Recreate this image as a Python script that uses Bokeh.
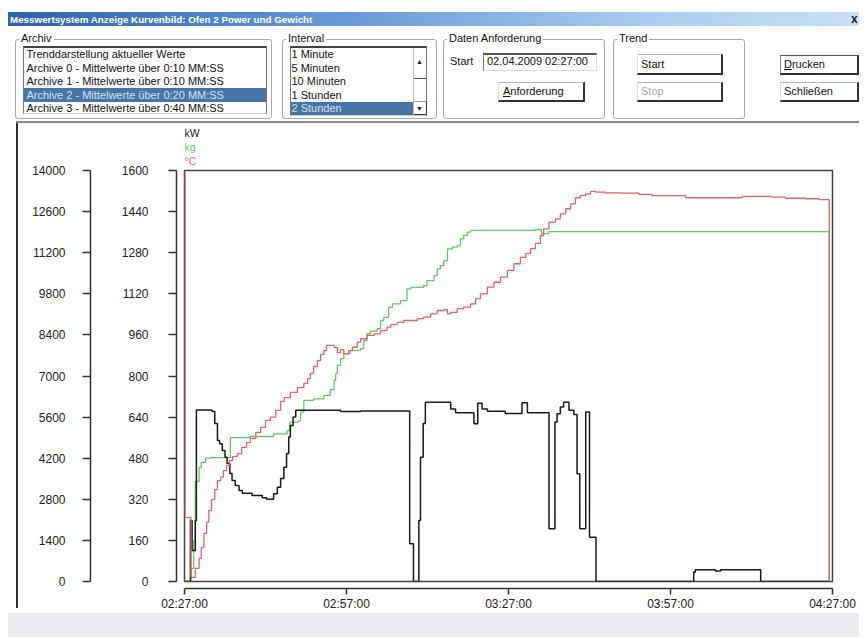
from bokeh.plotting import figure
from bokeh.models import Range1d, LinearAxis, FixedTicker, Title, Div
from bokeh.layouts import column, row
from bokeh.embed import file_html
from bokeh.resources import INLINE

# ---------------- data (time in minutes after 02:27:00) ----------------
kw_t = [0, 1.1, 1.4, 2.0, 2.2, 5.1, 5.6, 6.1, 6.5, 7.0, 7.5, 7.9, 8.4, 8.8, 9.4,
        10.1, 10.7, 12.5, 14.4, 15.2, 16.5, 17.2, 17.8, 18.4, 18.9, 19.3, 19.6,
        20.1, 20.6, 28.9, 32.6, 41.7, 42.4, 43.4, 43.7, 44.2, 44.6, 49.3, 50.2,
        53.6, 54.3, 55.1, 56.1, 59.4, 62.5, 63.5, 67.5, 68.6, 69.0, 69.6, 70.2,
        71.2, 72.1, 72.7, 73.2, 74.3, 75.0, 76.2, 94.3, 94.6, 98.3, 99.3, 106.7, 119.4]
kw_v = [0, 2080, 1060, 2080, 5840, 5790, 5380, 4800, 4690, 4460, 4230, 4020, 3680,
        3440, 3270, 3100, 3010, 2930, 2850, 2800, 2990, 3210, 3510, 3890, 4360,
        4920, 5310, 5600, 5830, 5790, 5810, 1290, 0, 2080, 4230, 5380, 6110, 5880,
        5750, 5370, 6070, 5880, 5800, 5720, 6090, 5750, 1800, 5430, 5710, 5940,
        6110, 5830, 5690, 3670, 1800, 5770, 1510, 0, 320, 400, 360, 400, 0, 0]

kg_t = [0, 1.2, 1.7, 2.0, 2.7, 3.1, 3.9, 4.8, 8.5, 12.2, 16.5, 19.0, 19.5, 21.2,
        21.5, 22.1, 23.9, 25.8, 27.0, 27.7, 28.0, 28.3, 28.9, 29.5, 30.7, 32.6,
        33.2, 33.8, 34.4, 35.7, 36.3, 36.9, 37.8, 38.5, 40.0, 41.2, 41.9, 44.3,
        44.9, 46.2, 46.8, 47.4, 48.0, 48.7, 49.6, 50.5, 51.1, 51.7, 52.4, 53.0,
        65.0, 66.1, 67.4, 119.4]
kg_v = [0, 440, 1400, 3410, 3880, 4060, 4200, 4220, 4900, 4940, 5030, 5140, 5430,
        5480, 5770, 6170, 6220, 6340, 6540, 6850, 7080, 7360, 7590, 7760, 7870,
        7930, 8210, 8440, 8530, 8610, 8890, 9000, 9340, 9460, 9570, 9970, 10020,
        10080, 10250, 10420, 10650, 10760, 10930, 11330, 11390, 11440, 11670,
        11790, 11900, 11960, 11990, 11850, 11920, 0]

c_t = [0, 0.1, 1.2, 2.0, 2.7, 3.1, 3.6, 4.1, 4.5, 5.0, 5.6, 6.1, 6.7, 7.2, 7.8,
       8.3, 8.9, 9.8, 10.6, 11.5, 12.2, 13.2, 14.1, 15.0, 15.9, 16.9, 17.8, 18.5,
       19.6, 20.9, 22.1, 22.8, 23.3, 23.9, 24.6, 25.2, 25.8, 26.3, 27.7, 28.3,
       28.9, 29.5, 30.4, 31.1, 32.0, 32.6, 33.8, 35.1, 36.3, 37.5, 38.2, 39.4,
       40.6, 43.1, 44.3, 45.6, 46.8, 48.0, 48.7, 49.3, 50.5, 51.7, 53.0, 53.9,
       54.8, 56.1, 57.3, 58.5, 59.8, 61.0, 62.2, 63.2, 64.1, 65.0, 65.9, 66.5,
       67.5, 68.7, 69.6, 70.6, 71.5, 72.4, 73.3, 74.3, 75.2, 76.1, 78.0, 81.1,
       84.1, 86.6, 92.8, 103.3, 108.8, 111.3, 115.0, 117.5, 119.4]
c_v = [1590, 250, 16, 51, 90, 132, 187, 231, 276, 319, 358, 393, 406, 432, 452,
       471, 487, 498, 522, 541, 557, 580, 600, 627, 640, 666, 701, 716, 736, 755,
       771, 790, 810, 837, 860, 884, 899, 919, 911, 891, 903, 886, 899, 912, 932,
       945, 958, 964, 977, 990, 1000, 1009, 1016, 1023, 1029, 1042, 1055, 1058,
       1042, 1048, 1062, 1068, 1081, 1101, 1120, 1146, 1165, 1185, 1211, 1237,
       1262, 1277, 1296, 1316, 1347, 1373, 1399, 1412, 1431, 1451, 1470, 1494,
       1503, 1509, 1519, 1516, 1513, 1512, 1507, 1502, 1494, 1499, 1496, 1492,
       1490, 1487, 0]

time_ticks = [0, 30, 60, 90, 120]
time_labels = ["02:27:00", "02:57:00", "03:27:00", "03:57:00", "04:27:00"]
kw_ticks = [0, 1400, 2800, 4200, 5600, 7000, 8400, 9800, 11200, 12600, 14000]
c_ticks = [0, 160, 320, 480, 640, 800, 960, 1120, 1280, 1440, 1600]

window_title = "Messwertsystem Anzeige Kurvenbild: Ofen 2 Power und Gewicht"
archive_items = ["Trenddarstellung aktueller Werte",
                 "Archive 0 - Mittelwerte über 0:10 MM:SS",
                 "Archive 1 - Mittelwerte über 0:10 MM:SS",
                 "Archive 2 - Mittelwerte über 0:20 MM:SS",
                 "Archive 3 - Mittelwerte über 0:40 MM:SS"]
interval_items = ["1 Minute", "5 Minuten", "10 Minuten", "1 Stunden", "2 Stunden"]
start_value = "02.04.2009 02:27:00"

FONT = "'Liberation Sans', Arial, sans-serif"
C_KW, C_KG, C_C = "#1a1a1a", "#62c862", "#e8606a"

# ---------------- header (dialog controls) ----------------
def box(l, t, w, h, style=""):
    return (f'<div style="position:absolute;left:{l}px;top:{t}px;width:{w}px;height:{h}px;'
            f'box-sizing:border-box;{style}"></div>')

def txt(l, t, s, style=""):
    return (f'<div style="position:absolute;left:{l}px;top:{t}px;white-space:nowrap;'
            f'line-height:13px;{style}">{s}</div>')

def group(l, w, label):
    return (box(l, 31, w, 80, "border:1px solid #a9a9a9;border-radius:3px;") +
            txt(l + 4, 24, label, "background:#fff;padding:0 2px;"))

def button(l, t, w, h, label, color="#111", extra=""):
    return (f'<div style="position:absolute;left:{l}px;top:{t}px;width:{w}px;height:{h}px;'
            f'box-sizing:border-box;background:#fff;border-top:1px solid #b5b5b5;'
            f'border-left:1px solid #dedede;border-right:2px solid #333;border-bottom:2px solid #333;'
            f'padding-left:3px;line-height:{h - 3}px;color:{color};white-space:nowrap;{extra}">{label}</div>')

def listbox(l, w, h, items, sel, text_pad, sel_w):
    out = box(l, 38, w, h, "border-top:2px solid #444;border-left:1px solid #777;"
                           "border-right:1px solid #777;border-bottom:1px solid #d0d0d0;")
    for i, s in enumerate(items):
        top = 39.5 + 13.5 * i
        if i == sel:
            out += box(l + 1, top, sel_w, 13.5, "background:#4675a6;")
            out += txt(l + text_pad, top + 0.5, s, "color:#d6e2ee;")
        else:
            out += txt(l + text_pad, top + 0.5, s)
    return out

parts = []
parts.append(box(0, 4, 851, 14, "background:linear-gradient(to right,#2d62a8,#5f93d3 35%,#a9cdf0 75%,#c9e0f6);"))
parts.append(txt(2, 4.5, window_title, "color:#fff;font-weight:bold;font-size:9.8px;"))
parts.append(txt(843, 4.5, "x", "color:#222;font-weight:bold;font-size:12px;"))

parts.append(group(7, 257, "Archiv"))
parts.append(listbox(15, 244, 68, archive_items, 3, 3.5, 242))

parts.append(group(274, 155, "Interval"))
parts.append(listbox(282, 137, 70, interval_items, 4, 1.5, 122))
parts.append(box(405, 40, 14, 67, "border-left:1px solid #bbb;"))
parts.append(txt(408, 47, "&#9650;", "font-size:7px;color:#222;"))
parts.append(box(406, 70, 13, 1, "background:#555;"))
parts.append(box(406, 93, 13, 14, "border-right:1px solid #333;border-bottom:1px solid #333;border-top:1px solid #999;"))
parts.append(txt(408, 94, "&#9660;", "font-size:7px;color:#222;"))

parts.append(group(435, 162, "Daten Anforderung"))
parts.append(txt(442, 46.5, "Start"))
parts.append(box(475, 45, 114, 18, "border-top:2px solid #555;border-left:1px solid #777;"
                                   "border-right:1px solid #ddd;border-bottom:1px solid #ddd;"))
parts.append(txt(479, 47, start_value))
parts.append(button(490, 74, 87, 20, "<u>A</u>nforderung", extra="padding-left:4px;"))

parts.append(group(605, 132, "Trend"))
parts.append(button(629, 45.5, 86, 21.5, "Start"))
parts.append(button(629, 74, 86, 20, "Stop", color="#a8a8a8"))

parts.append(button(772, 47, 79, 20, "<u>D</u>rucken", extra="border-top:1px solid #555;border-left:1px solid #888;"))
parts.append(button(772, 74, 79, 20, "Schließen"))

parts.append(box(8, 113, 843, 2, "background:#8c8c8c;"))

header_html = (f'<div style="position:relative;width:851px;height:115px;overflow:hidden;'
               f'font-family:{FONT};font-size:11px;color:#111;background:#fff;">' + "".join(parts) + '</div>')
header = Div(text=header_html, width=851, height=115, margin=(0, 0, 0, 0))

left_border = Div(text='<div style="position:relative;width:10px;height:490px;background:#fff;">'
                       '<div style="position:absolute;left:8px;top:0;width:2px;height:485px;background:#333;"></div></div>',
                  width=10, height=490, margin=(0, 0, 0, 0))

# ---------------- chart ----------------
p = figure(width=841, height=490, x_range=Range1d(0, 120), y_range=Range1d(0, 14000),
           x_axis_location=None, y_axis_location=None, toolbar_location=None, tools="",
           output_backend="svg", min_border_left=166, min_border_right=27,
           min_border_top=47, min_border_bottom=29, margin=(0, 0, 0, 0))
p.extra_y_ranges = {"temp": Range1d(0, 1600)}
p.grid.grid_line_color = None
p.outline_line_color = "#444"
p.outline_line_width = 1.5
p.background_fill_color = "white"
p.border_fill_color = "white"

def spacer(size, tick, range_name="default"):
    # an empty axis that only reserves `size` pixels between the frame and the next element
    kw = dict(y_range_name=range_name) if range_name != "default" else {}
    return LinearAxis(ticker=FixedTicker(ticks=[tick]), major_label_overrides={tick: ""},
                      major_tick_out=size, major_tick_in=0,
                      minor_tick_out=0, minor_tick_in=0, axis_line_color=None,
                      major_tick_line_color="white", major_tick_line_alpha=0.01,
                      major_label_standoff=0, major_label_text_font_size="1px", **kw)

axis_style = dict(major_tick_in=0, minor_tick_out=0, minor_tick_in=0,
                  axis_line_color="#333", axis_line_width=1.5,
                  major_tick_line_color="#333", major_tick_line_width=1.5,
                  major_label_text_font=FONT, major_label_text_font_size="12px",
                  major_label_text_color="#222")

ax_c = LinearAxis(y_range_name="temp", ticker=FixedTicker(ticks=c_ticks),
                  major_tick_out=8, major_label_standoff=20, **axis_style)
ax_kw = LinearAxis(ticker=FixedTicker(ticks=kw_ticks),
                   major_tick_out=8, major_label_standoff=17, **axis_style)
p.add_layout(spacer(8, 7000), "left")
p.add_layout(ax_c, "left")
p.add_layout(spacer(28, 7000), "left")
p.add_layout(ax_kw, "left")

ax_t = LinearAxis(ticker=FixedTicker(ticks=time_ticks),
                  major_label_overrides={t: s for t, s in zip(time_ticks, time_labels)},
                  major_tick_out=6, major_label_standoff=2, **axis_style)
p.add_layout(spacer(7, 60), "below")
p.add_layout(ax_t, "below")

p.add_layout(spacer(4, 60), "above")
for label, col in [("°C", C_C), ("kg", C_KG), ("kW", C_KW)]:
    p.add_layout(Title(text=label, text_color=col, text_font=FONT, text_font_size="10.5px",
                       text_font_style="normal", align="left", standoff=0), "above")

p.step(kg_t, kg_v, mode="after", line_color=C_KG, line_width=1.3)
p.step(kw_t, kw_v, mode="after", line_color=C_KW, line_width=1.5)
p.step(c_t, c_v, mode="after", line_color=C_C, line_width=1.3, y_range_name="temp")

band = Div(text='<div style="width:851px;height:24px;background:#ebebef;"></div>',
           width=851, height=24, margin=(0, 0, 0, 0))

layout = column(header, row(left_border, p, margin=(0, 0, 0, 0)), band, margin=(8, 0, 0, 8))
open("out.html", "w").write(file_html(layout, INLINE))
